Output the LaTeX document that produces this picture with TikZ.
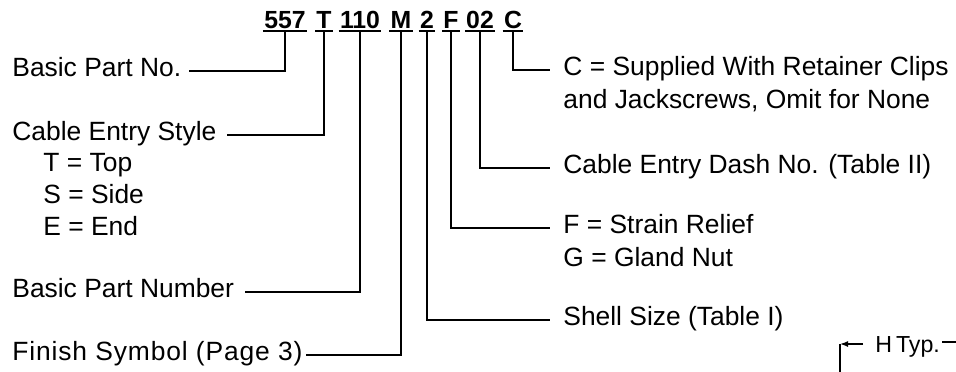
\documentclass[tikz,border=0pt]{standalone}
\usepackage{fontspec}
\setmainfont{Liberation Sans}
\usetikzlibrary{arrows.meta}
\begin{document}
\begin{tikzpicture}[x=0.5pt,y=-0.5pt,
  tok/.style={font=\fontsize{12.4}{14}\selectfont\bfseries, anchor=base, inner xsep=0.5pt, inner ysep=1.5pt, text depth=0pt},
  conn/.style={line width=1pt},
  lbl/.style={font=\fontsize{13.2}{15}\selectfont, anchor=west, inner sep=0pt, text height=0.7em, text depth=0.2em},
  rlbl/.style={lbl, inner xsep=6.5pt},
  dimtxt/.style={font=\fontsize{11.6}{13}\selectfont, anchor=west, inner sep=0pt, text height=0.7em, text depth=0.2em},
  dimln/.style={line width=0.7pt}
]
\useasboundingbox (0,0) rectangle (956,371);

% header tokens
\node[tok] (t1) at (285,28) {557};
\node[tok] (t2) at (324,28) {T};
\node[tok] (t3) at (360,28) {110};
\node[tok] (t4) at (401,28) {M};
\node[tok] (t5) at (427,28) {2};
\node[tok] (t6) at (451,28) {F};
\node[tok] (t7) at (480,28) {02};
\node[tok] (t8) at (513,28) {C};
\foreach \t in {t1,t2,t3,t4,t5,t6,t7,t8}
  \draw[conn] (\t.south west) -- (\t.south east);

% left labels
\node[lbl] (bpn) at (12,71) {Basic Part No.};
\node[lbl] (ces) at (12,135) {Cable Entry Style};
\node[lbl] (cest) at (43,166) {T = Top};
\node[lbl] (cess) at (43,198) {S = Side};
\node[lbl] (cese) at (43,230) {E = End};
\node[lbl] (bpnum) at (12,292) {Basic Part Number};
\node[lbl] (fin) at (12,355) {\addfontfeature{LetterSpace=3.3}Finish Symbol (Page 3)};

% right labels
\node[rlbl] (rc) at (550,70) {C = Supplied With Retainer Clips};
\node[rlbl] (rc2) at (550,103) {and Jackscrews, Omit for None};
\node[rlbl] (rd) at (550,168) {Cable Entry Dash No. (Table II)};
\node[rlbl] (rf) at (550,228) {F = Strain Relief};
\node[rlbl] (rg) at (550,261) {G = Gland Nut};
\node[rlbl] (rs) at (550,320) {Shell Size (Table I)};

% connectors
\draw[conn] (t1.south) |- ([xshift=3.5pt]bpn.east);
\draw[conn] (t2.south) |- ([xshift=5pt]ces.east);
\draw[conn] (t3.south) |- ([xshift=5.5pt]bpnum.east);
\draw[conn] (t4.south) |- ([xshift=1.5pt]fin.east);
\draw[conn] (t5.south) |- (rs.west);
\draw[conn] (t6.south) |- (rf.west);
\draw[conn] (t7.south) |- (rd.west);
\draw[conn] (t8.south) |- (rc.west);

% H Typ. dimension fragment
\node[dimtxt] (ht) at (875,347) {H\,Typ.};
\coordinate (hv) at (840,344);
\coordinate (hvb) at (840,380);
\coordinate (ha) at (863,344);
\coordinate (hr1) at (942,342);
\coordinate (hr2) at (960,342);
\draw[dimln] (hv) -- (hvb);
\draw[dimln,-{Latex[length=4pt,width=3pt]}] (ha) -- (hv);
\draw[dimln] (hr1) -- (hr2);
\end{tikzpicture}
\end{document}
